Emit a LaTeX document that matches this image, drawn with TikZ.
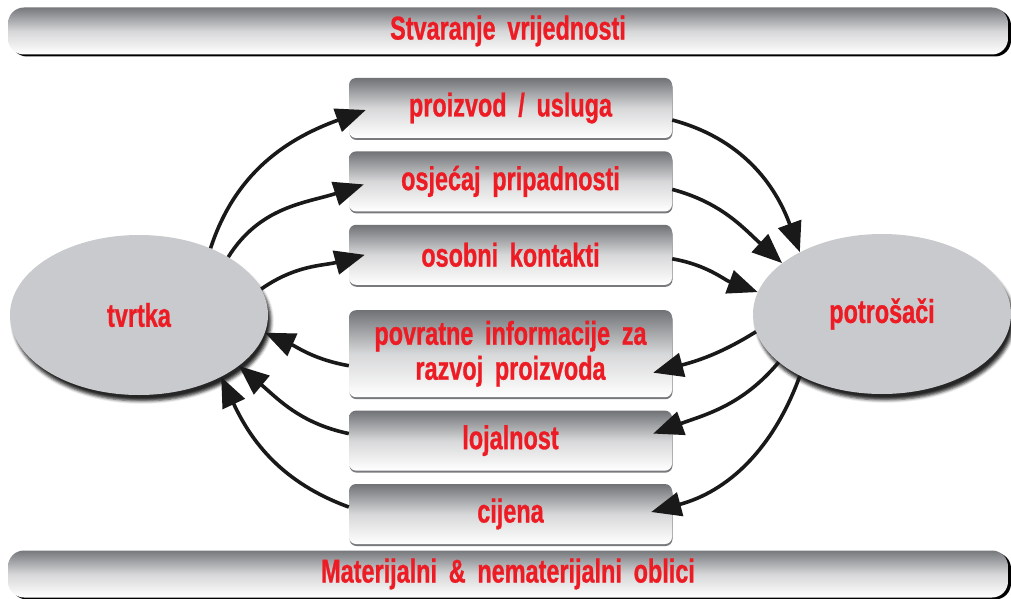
\documentclass[tikz,border=0pt]{standalone}
\usepackage{fontspec}
\newfontfamily\lblfont{Liberation Sans}[FakeStretch=0.71,WordSpace=1.8,BoldFeatures={FakeBold=0.8}]
\usetikzlibrary{arrows.meta,positioning,shadows,shadows.blur,shapes.geometric}

\begin{document}
\begin{tikzpicture}[
    x=1pt, y=1pt,
    font=\lblfont\bfseries\fontsize{33}{35}\selectfont,
    node distance=13pt,
    bar/.style={
        rounded corners=16pt,
        minimum width=1000pt,
        minimum height=47pt,
        top color=bargray,
        bottom color=white,
        middle color=bargray!30!white,
        text=lblred,
        inner sep=0pt,
        drop shadow={shadow xshift=3pt, shadow yshift=-2pt, fill=black, opacity=1}
    },
    panel/.style={
        rounded corners=7pt,
        minimum width=323pt,
        minimum height=60pt,
        top color=panelgray,
        bottom color=white,
        middle color=panelgray!28!white,
        text=lblred,
        align=center,
        inner sep=0pt,
        drop shadow={shadow xshift=0.5pt, shadow yshift=-2pt, fill=edgegray, opacity=1}
    },
    party/.style={
        ellipse,
        minimum width=258pt,
        minimum height=160pt,
        inner sep=0pt,
        fill=ellgray,
        text=lblred,
        blur shadow={shadow xshift=3pt, shadow yshift=-6pt, shadow opacity=85, shadow blur radius=3pt}
    },
    flow/.style={-{Triangle[length=30pt,width=24pt]}, line width=3.6pt, draw=black!90}
]

\definecolor{lblred}{RGB}{237,28,36}
\definecolor{bargray}{RGB}{118,120,124}
\definecolor{panelgray}{RGB}{112,114,118}
\definecolor{edgegray}{RGB}{120,121,124}
\definecolor{ellgray}{RGB}{201,202,205}

\useasboundingbox (0,0) rectangle (1011,598);

% frame bars
\node[bar] (value) at (508,567) {Stvaranje vrijednosti};
\node[bar] (forms) at (508,24) {Materijalni \& nematerijalni oblici};

% the two parties
\node[party] (tvrtka) at (139,283) {tvrtka};
\node[party] (potrosaci) at (882,284) {potrošači};

% exchanged values
\node[panel] (product) at (510.5,490) {proizvod / usluga};
\node[panel, below=of product] (belong) {osjećaj pripadnosti};
\node[panel, below=of belong] (contacts) {osobni kontakti};
\node[panel, below=25pt of contacts, minimum height=87pt] (feedback) {povratne informacije za\\razvoj proizvoda};
\node[panel, below=of feedback] (loyalty) {lojalnost};
\node[panel, below=of loyalty] (price) {cijena};

% tvrtka side
\draw[flow] (tvrtka.43) to[out=72, in=200] ([xshift=17pt,yshift=-2pt]product.west);
\draw[flow] (tvrtka.33) to[out=58, in=198] ([xshift=15pt,yshift=-3pt]belong.west);
\draw[flow] (tvrtka.12) to[out=35, in=195] ([xshift=16pt]contacts.west);
\draw[flow] ([yshift=-12pt]feedback.west) to[out=170, in=-24] (tvrtka.-8);
\draw[flow] ([yshift=7pt]loyalty.west) to[out=168, in=-40] (tvrtka.-27);
\draw[flow] ([yshift=7pt]price.west) to[out=160, in=-65] (tvrtka.-37);

% potrosaci side
\draw[flow] ([yshift=-12pt]product.east) to[out=-15, in=110] (potrosaci.143);
\draw[flow] ([yshift=-8pt]belong.east) to[out=-15, in=138] (potrosaci.153);
\draw[flow] ([yshift=-4pt]contacts.east) to[out=-10, in=160] (potrosaci.170);
\draw[flow] (potrosaci.188) to[out=212, in=15] ([xshift=-19pt,yshift=-19pt]feedback.east);
\draw[flow] (potrosaci.205) to[out=230, in=20] ([xshift=-19pt,yshift=7pt]loyalty.east);
\draw[flow] (potrosaci.217) to[out=250, in=15] ([xshift=-21pt,yshift=2pt]price.east);

\end{tikzpicture}
\end{document}
